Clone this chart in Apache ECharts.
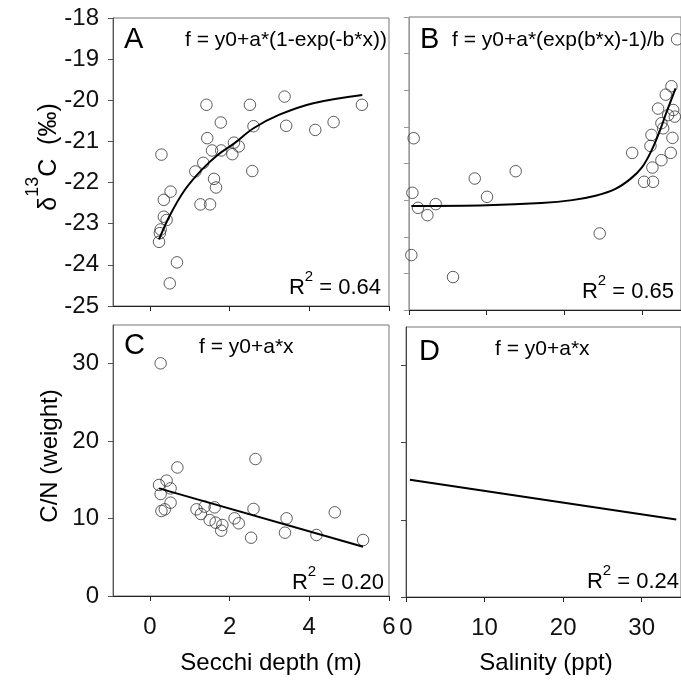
<!DOCTYPE html>
<html>
<head>
<meta charset="utf-8">
<script src="https://cdn.jsdelivr.net/npm/echarts@6/dist/echarts.min.js"></script>
<style>
  html, body { margin: 0; padding: 0; background: #fff; }
  #chart { width: 681px; height: 684px; }
</style>
</head>
<body>
<div id="chart"></div>
<script>
// panel A: d13C vs Secchi depth
const secchiA = [0.29, 0.52, 0.35, 0.35, 0.42, 0.27, 0.25, 0.23, 0.68, 0.5, 1.14, 1.34, 1.27, 1.51, 1.42, 1.44, 1.56, 1.61, 1.66, 1.78, 1.79, 2.07, 2.11, 2.23, 2.51, 2.6, 2.57, 3.38, 3.42, 4.15, 4.61, 5.32];
const d13cA = [-21.32, -22.22, -22.42, -22.83, -22.91, -23.14, -23.23, -23.44, -23.94, -24.45, -21.73, -21.52, -22.53, -22.53, -20.11, -20.92, -21.22, -21.91, -22.12, -20.54, -21.22, -21.31, -21.03, -21.12, -20.11, -20.63, -21.72, -19.91, -20.62, -20.72, -20.53, -20.11];
const fitAx = [0.23, 0.5, 0.875, 1.3, 1.7, 2.1, 2.6, 3.25, 4.1, 5.33];
const fitAy = [-23.38, -22.8, -22.18, -21.69, -21.33, -21.06, -20.68, -20.35, -20.07, -19.87];

// panel B: d13C vs salinity
const salB = [0.6, 0.44, 1.16, 2.37, 3.44, 0.3, 5.66, 8.46, 10.04, 13.73, 24.54, 28.72, 34.5, 33.77, 33.04, 32.05, 34.0, 33.34, 34.2, 32.48, 32.7, 31.2, 33.9, 31.07, 33.68, 32.48, 31.32, 30.25, 31.4];
const d13cB = [-21.31, -22.8, -23.21, -23.41, -23.11, -24.5, -25.1, -22.41, -22.91, -22.21, -23.91, -21.71, -18.61, -19.89, -20.12, -20.5, -20.54, -20.68, -20.72, -20.9, -21.04, -21.22, -21.3, -21.52, -21.71, -21.91, -22.11, -22.5, -22.5];
const fitBx = [0.3, 10, 17, 21, 24, 26.5, 28.5, 30, 31.2, 32.2, 33.1, 34.3];
const fitBy = [-23.16, -23.14, -23.08, -23.0, -22.88, -22.7, -22.42, -22.1, -21.65, -21.15, -20.62, -19.95];

// panel C: C/N vs Secchi depth
const secchiC = [0.27, 0.23, 0.27, 0.42, 0.52, 0.29, 0.375, 0.52, 0.69, 1.17, 1.28, 1.375, 1.5, 1.625, 1.65, 1.79, 1.82, 2.125, 2.23, 2.54, 2.6, 2.65, 3.39, 3.43, 4.18, 4.64, 5.35];
const cnC = [30.05, 14.34, 13.17, 14.9, 13.9, 10.98, 11.19, 12.05, 16.6, 11.19, 10.59, 11.54, 9.81, 11.45, 9.47, 8.44, 9.17, 10.03, 9.39, 7.53, 11.24, 17.69, 8.18, 10.03, 7.88, 10.81, 7.23];
const fitCx = [0.23, 5.35];
const fitCy = [13.9, 6.37];

// panel D: C/N vs salinity (fit line only)
const fitDx = [0.5, 34.4];
const fitDy = [15.2, 10.05];

const secchiTicks = [0, 2, 4, 6];
const salTicks = [0, 10, 20, 30];
const cnTicks = [0, 10, 20, 30];

const zip = (xs, ys) => xs.map((x, i) => [x, ys[i]]);

const FONT = '"Liberation Sans", Arial, sans-serif';
const chart = echarts.init(document.getElementById('chart'));

const grid = (left, top, width, height) => ({
    left, top, width, height,
    show: true, borderColor: '#777', borderWidth: 1, backgroundColor: 'transparent'
});

const xAx = (gi, min, max, ticks, showLabel) => ({
    type: 'value', gridIndex: gi, min, max,
    axisLine: { onZero: false, lineStyle: { color: '#222', width: 1 } },
    axisTick: { customValues: ticks, length: 5, lineStyle: { color: '#222' } },
    axisLabel: { show: showLabel, customValues: ticks, margin: 19, fontSize: 24, color: '#111', fontFamily: FONT },
    splitLine: { show: false }
});

const yAx = (gi, min, max, lineColor, showLabel, ticks) => {
    const ax = {
        type: 'value', gridIndex: gi, min, max,
        axisLine: { onZero: false, lineStyle: { color: lineColor, width: 1 } },
        axisTick: { length: 5, lineStyle: { color: lineColor } },
        axisLabel: { show: showLabel, margin: 14, fontSize: 24, color: '#111', fontFamily: FONT },
        splitLine: { show: false }
    };
    if (ticks) {
        ax.axisTick.customValues = ticks;
        ax.axisLabel.customValues = ticks;
    } else {
        ax.interval = 1;
    }
    return ax;
};

const dots = (i, xs, ys) => ({
    type: 'scatter', xAxisIndex: i, yAxisIndex: i,
    data: zip(xs, ys), symbol: 'circle', symbolSize: 11.5,
    itemStyle: { color: 'rgba(0,0,0,0)', borderColor: '#333', borderWidth: 1 },
    z: 3
});

const fit = (i, xs, ys) => ({
    type: 'line', xAxisIndex: i, yAxisIndex: i,
    data: zip(xs, ys), showSymbol: false, smooth: 0.35,
    lineStyle: { color: '#000', width: 2 }, z: 4
});

const txt = (x, y, text, size, align, extra) => Object.assign({
    type: 'text', x, y,
    style: { text, font: size + 'px ' + FONT, fill: '#000', textAlign: align, align: align, textVerticalAlign: 'middle', verticalAlign: 'middle' }
}, extra || {});

const rsq = (x, y, val) => ({
    type: 'text', x, y,
    style: {
        text: '{r|R}{s|2}{r| = ' + val + '}',
        textAlign: 'right', align: 'right', textVerticalAlign: 'middle', verticalAlign: 'middle',
        rich: {
            r: { fontSize: 22, fontFamily: FONT, color: '#000', lineHeight: 30, verticalAlign: 'bottom' },
            s: { fontSize: 15, fontFamily: FONT, color: '#000', lineHeight: 15, verticalAlign: 'top' }
        }
    }
});

const option = {
    animation: false,
    backgroundColor: '#fff',
    grid: [
        grid(113, 18, 276, 288),
        grid(409, 17, 273, 293),
        grid(113, 325, 276, 271),
        grid(406, 327, 276, 270)
    ],
    xAxis: [
        xAx(0, -0.925, 6, secchiTicks, false),
        xAx(1, 0, 35, salTicks, false),
        xAx(2, -0.925, 6, secchiTicks, true),
        xAx(3, 0, 35, salTicks, true)
    ],
    yAxis: [
        yAx(0, -25, -18, '#555', true),
        yAx(1, -26, -18, '#999', false),
        yAx(2, 0, 35, '#555', true, cnTicks),
        yAx(3, 0, 35, '#444', false, cnTicks)
    ],
    series: [
        dots(0, secchiA, d13cA), fit(0, fitAx, fitAy),
        dots(1, salB, d13cB), fit(1, fitBx, fitBy),
        dots(2, secchiC, cnC), fit(2, fitCx, fitCy),
        fit(3, fitDx, fitDy)
    ],
    graphic: [
        txt(124, 40, 'A', 29, 'left'),
        txt(185, 40, 'f = y0+a*(1-exp(-b*x))', 21, 'left'),
        txt(420, 40, 'B', 29, 'left'),
        txt(452, 40, 'f = y0+a*(exp(b*x)-1)/b', 21, 'left'),
        txt(124, 346, 'C', 29, 'left'),
        txt(199, 347, 'f = y0+a*x', 21, 'left'),
        txt(419, 352, 'D', 29, 'left'),
        txt(495, 349, 'f = y0+a*x', 21, 'left'),
        rsq(381, 284, '0.64'),
        rsq(674, 288, '0.65'),
        rsq(384, 579, '0.20'),
        rsq(679, 578, '0.24'),
        txt(271, 663, 'Secchi depth (m)', 24, 'center'),
        txt(546, 663, 'Salinity (ppt)', 24, 'center'),
        {
            type: 'text', x: 43, y: 157, rotation: Math.PI / 2,
            style: {
                text: '{n|δ}{s|13}{n|C  (‰)}',
                textAlign: 'center', align: 'center', textVerticalAlign: 'middle', verticalAlign: 'middle',
                rich: {
                    n: { fontSize: 25, fontFamily: FONT, color: '#000', lineHeight: 38, verticalAlign: 'bottom' },
                    s: { fontSize: 18, fontFamily: FONT, color: '#000', lineHeight: 18, verticalAlign: 'top' }
                }
            }
        },
        txt(50, 456, 'C/N (weight)', 24, 'center', { rotation: Math.PI / 2 })
    ]
};

chart.setOption(option);
</script>
</body>
</html>
